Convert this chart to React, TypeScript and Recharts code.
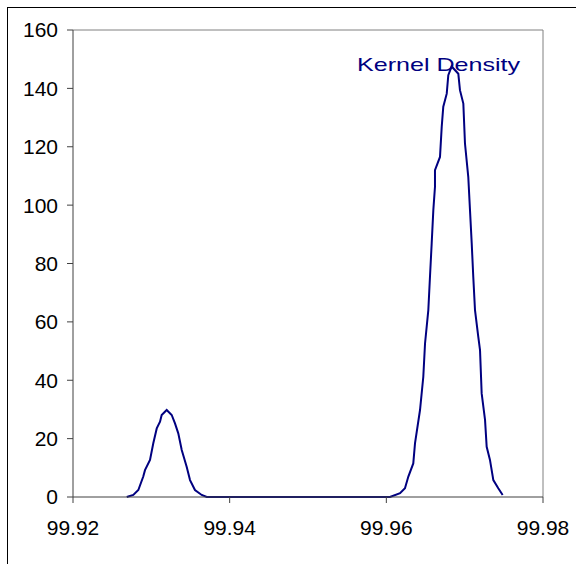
import React from 'react';
import { LineChart, Line, XAxis, YAxis, ReferenceLine } from 'recharts';

// kernel density estimate
const xValues = [
  99.92686, 99.9277, 99.92834, 99.92897, 99.92919, 99.92983, 99.93025, 99.93069, 99.93111, 99.93132,
  99.93196, 99.9326, 99.93302, 99.93344, 99.93388, 99.93451, 99.93494, 99.93557, 99.93643, 99.93707,
  99.95, 99.96047, 99.96175, 99.96238, 99.96281, 99.96344, 99.96366, 99.9643, 99.96472, 99.96494,
  99.96536, 99.96557, 99.96579, 99.966, 99.96621, 99.96621, 99.96685, 99.96707, 99.96727, 99.96771,
  99.96791, 99.96834, 99.96919, 99.9694, 99.96983, 99.97004, 99.97046, 99.97068, 99.9709, 99.9711,
  99.97132, 99.97174, 99.97196, 99.97217, 99.9726, 99.97281, 99.97323, 99.97366, 99.97429, 99.97485,
];
const densityValues = [
  0, 0.7, 2.4, 7.0, 9.2, 12.7, 18.4, 23.5, 25.8, 28.1,
  29.8, 28.1, 25.2, 21.8, 16.1, 10.4, 5.8, 2.4, 0.7, 0,
  0, 0, 1.3, 3.0, 7.0, 11.5, 18.4, 29.8, 41.2, 52.6,
  64.0, 75.4, 86.9, 98.3, 106.3, 112.0, 116.5, 126.8, 133.7, 138.2,
  144.5, 147.5, 145.0, 139.4, 134.8, 121.1, 109.7, 98.3, 86.9, 75.4,
  64.0, 54.9, 50.3, 35.5, 26.4, 17.2, 12.7, 5.8, 3.0, 0.7,
];
const xTicks = [99.92, 99.94, 99.96, 99.98];
const yTicks = [0, 20, 40, 60, 80, 100, 120, 140, 160];

const data = xValues.map((x, i) => ({ x, density: densityValues[i] }));

const FONT = '"Liberation Sans", Arial, sans-serif';
const tickStyle = { fontSize: 21, fill: '#000', fontFamily: FONT };

export default function App() {
  return (
    <div style={{ position: 'absolute', left: 0, top: 0, width: 576, height: 564, overflow: 'hidden', background: '#fff' }}>
      <div
        style={{
          position: 'absolute', left: 7, top: 7, width: 640, height: 640,
          borderLeft: '1px solid #000', borderTop: '1px solid #000',
        }}
      />
      <div style={{ position: 'absolute', left: 0, top: 0 }}>
        <LineChart width={576} height={564} data={data} margin={{ top: 30, right: 33, bottom: 0, left: 0 }}>
          <XAxis
            dataKey="x"
            type="number"
            domain={[99.92, 99.98]}
            ticks={xTicks}
            tickFormatter={(v: number) => v.toFixed(2)}
            height={67}
            tickSize={6}
            tickMargin={17}
            tick={tickStyle}
            stroke="#404040"
            allowDataOverflow
          />
          <YAxis
            type="number"
            domain={[0, 160]}
            ticks={yTicks}
            width={73}
            tickSize={6}
            tickMargin={9}
            tick={tickStyle}
            stroke="#404040"
          />
          <ReferenceLine y={160} stroke="#808080" strokeWidth={1} />
          <ReferenceLine x={99.98} stroke="#808080" strokeWidth={1} />
          <Line
            type="linear"
            dataKey="density"
            stroke="#000080"
            strokeWidth={2}
            dot={false}
            isAnimationActive={false}
          />
          <text
            x={357}
            y={71}
            fill="#000080"
            fontSize={19}
            fontFamily={FONT}
            textLength={163}
            lengthAdjust="spacingAndGlyphs"
          >
            Kernel Density
          </text>
        </LineChart>
      </div>
    </div>
  );
}
